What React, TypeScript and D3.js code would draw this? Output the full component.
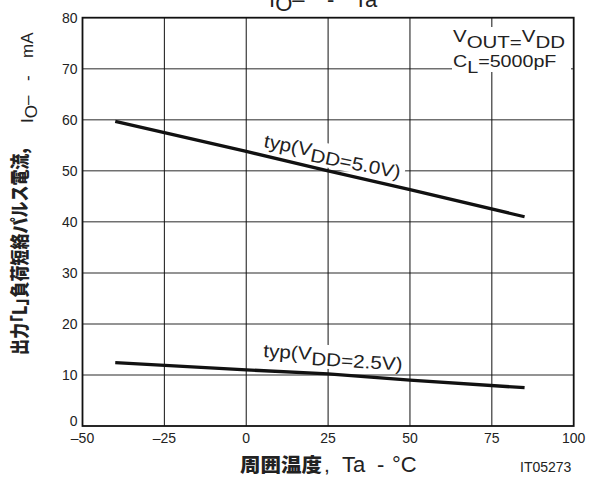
import React from "react";
import * as d3 from "d3";

const xTicks = [-50, -25, 0, 25, 50, 75, 100];
const xTickLabels = ["\u201350", "\u201325", "0", "25", "50", "75", "100"];
const yTicks = [0, 10, 20, 30, 40, 50, 60, 70, 80];
const yTickLabels = ["0", "10", "20", "30", "40", "50", "60", "70", "80"];

const temps5 = [-40, 0, 25, 50, 85];
const io5 = [59.7, 53.8, 50.0, 46.3, 41.0];
const temps25 = [-40, 0, 25, 50, 85];
const io25 = [12.4, 11.0, 10.2, 9.0, 7.5];

const W = 589;
const H = 477;
const M = { left: 82.5, right: 15.3, top: 17.7, bottom: 51 };

const LAT = "'Liberation Sans', Arial, Helvetica, sans-serif";
const CJK = "'Noto Sans CJK JP', 'Noto Sans CJK SC', sans-serif";

export default function App() {
  const x = d3.scaleLinear().domain([-50, 100]).range([M.left, W - M.right]);
  const y = d3.scaleLinear().domain([0, 80]).range([H - M.bottom, M.top]);
  const line = d3
    .line<[number, number]>()
    .x((d) => x(d[0]))
    .y((d) => y(d[1]));
  const d5 = line(temps5.map((t, i) => [t, io5[i]] as [number, number])) || "";
  const d25 = line(temps25.map((t, i) => [t, io25[i]] as [number, number])) || "";

  const x0 = x(-50), x1 = x(100), yb = y(0), yt = y(80);

  return (
    <svg
      width={W}
      height={H}
      style={{ position: "absolute", left: 0, top: 0, background: "#fff" }}
      fontFamily={LAT}
    >
      <rect x={0} y={0} width={W} height={H} fill="#fff" />
      {/* horizontal gridlines */}
      {yTicks.slice(1, -1).map((v) => (
        <line key={"h" + v} x1={x0} x2={x1} y1={y(v)} y2={y(v)} stroke="#707070" strokeWidth={1.5} />
      ))}
      {/* vertical gridlines */}
      {xTicks.slice(1, -1).map((v) => (
        <line key={"v" + v} x1={x(v)} x2={x(v)} y1={yt} y2={yb} stroke="#111" strokeWidth={1} />
      ))}
      {/* annotation box background */}
      <rect x={452} y={27} width={119} height={45} fill="#fff" />
      <g transform="translate(453,42) scale(1.28,1)" fontSize={16} fill="#222">
        <text x={0} y={0}>
          V<tspan dy={6}>OUT</tspan>
          <tspan>=</tspan>
          <tspan dy={-6}>V</tspan>
          <tspan dy={6}>DD</tspan>
        </text>
      </g>
      <g transform="translate(453,67) scale(1.23,1)" fontSize={16} fill="#222">
        <text x={0} y={0}>
          C<tspan dy={6}>L</tspan>
          <tspan dy={-6}>=5000pF</tspan>
        </text>
      </g>

      {/* curve labels with white backgrounds */}
      <g transform="translate(263,147) rotate(11)">
        <rect x={-2} y={-16} width={146} height={24} fill="#fff" />
        <g transform="scale(1.12,1)">
          <text x={0} y={0} fontSize={18.5} fill="#222">
            typ(V<tspan dy={5}>DD=5.0V)</tspan>
          </text>
        </g>
      </g>
      <g transform="translate(263,357) rotate(3.5)">
        <rect x={-2} y={-16} width={146} height={24} fill="#fff" />
        <g transform="scale(1.12,1)">
          <text x={0} y={0} fontSize={18.5} fill="#222">
            typ(V<tspan dy={5}>DD=2.5V)</tspan>
          </text>
        </g>
      </g>

      {/* curves */}
      <path d={d5} fill="none" stroke="#111" strokeWidth={3.3} />
      <path d={d25} fill="none" stroke="#111" strokeWidth={3.3} />

      {/* frame */}
      <rect x={x0} y={yt} width={x1 - x0} height={yb - yt} fill="none" stroke="#111" strokeWidth={1.8} />

      {/* tick labels */}
      {xTicks.map((v, i) => (
        <text key={"xt" + v} x={x(v)} y={yb + 17} textAnchor="middle" fontSize={14} fill="#222">
          {xTickLabels[i]}
        </text>
      ))}
      {yTicks.map((v, i) => (
        <text
          key={"yt" + v}
          x={M.left - 5}
          y={y(v) + (v === 0 ? -0.5 : 5)}
          textAnchor="end"
          fontSize={14}
          fill="#222"
        >
          {yTickLabels[i]}
        </text>
      ))}

      {/* title */}
      <g fontSize={22} fill="#222">
        <text x={269} y={7}>
          I<tspan dy={4}>O</tspan>
          <tspan dy={-4}>{"\u2013"}</tspan>
        </text>
        <text x={327} y={7}>-</text>
        <text x={354} y={7}>Ta</text>
      </g>

      {/* x axis title */}
      <g transform="translate(240,472) scale(1.05,1)">
        <text x={0} y={0} fontFamily={CJK} fontWeight={900} fontSize={19.5} fill="#222">
          周囲温度
        </text>
      </g>
      <text x={324} y={472} fontSize={21} fill="#222">,</text>
      <text x={342} y={472} fontSize={22} fill="#222">Ta</text>
      <text x={377} y={472} fontSize={22} fill="#222">-</text>
      <text x={392} y={472} fontSize={22} fill="#222">°C</text>
      <text x={520} y={472} fontSize={14} fill="#222">IT05273</text>

      {/* y axis title */}
      <g transform="translate(27,355) rotate(-90) scale(1,1.22)">
        <text x={0} y={0} fontFamily={CJK} fontWeight={900} fontSize={16} fill="#222">
          出力｢L｣負荷短絡パルス電流,
        </text>
      </g>
      <g transform="translate(33,123) rotate(-90)" fontSize={17} fill="#222">
        <text x={0} y={0}>
          I<tspan dy={4}>O</tspan>
          <tspan dy={-4}>{"\u2013"}</tspan>
        </text>
        <text x={42} y={0}>-</text>
        <text x={65} y={0}>mA</text>
      </g>
    </svg>
  );
}
